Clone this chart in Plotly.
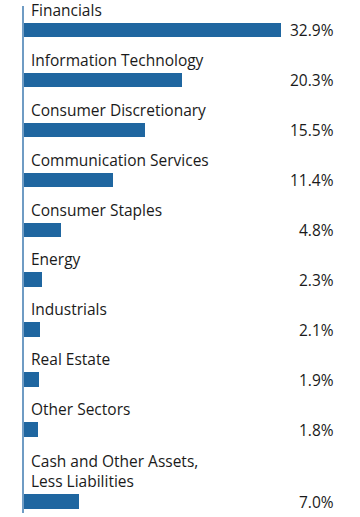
import plotly.graph_objects as go

categories = ["Financials", "Information Technology", "Consumer Discretionary",
              "Communication Services", "Consumer Staples", "Energy", "Industrials",
              "Real Estate", "Other Sectors", "Cash and Other Assets,<br>Less Liabilities"]
values = [32.9, 20.3, 15.5, 11.4, 4.8, 2.3, 2.1, 1.9, 1.8, 7.0]
value_labels = ["32.9%", "20.3%", "15.5%", "11.4%", "4.8%", "2.3%", "2.1%", "1.9%", "1.8%", "7.0%"]

# slot positions: uniform spacing, extra room for the two-line final label
pos = [i + (0.44 if "<br>" in c else 0) for i, c in enumerate(categories)]

BAR_W = 0.29
BLUE = "#1f66a0"
FONT = "Open Sans"

fig = go.Figure(go.Bar(
    x=values, y=pos, orientation="h", width=BAR_W,
    marker=dict(color=BLUE, line=dict(width=0)),
    hoverinfo="skip",
))

ann = []
for p, c, lab in zip(pos, categories, value_labels):
    ann.append(dict(x=0, y=p - BAR_W / 2, xref="x", yref="y", text=c,
                    xanchor="left", yanchor="bottom", align="left", showarrow=False,
                    xshift=5, yshift=0,
                    font=dict(family=FONT, size=15.5, color="#1a1a1a")))
    ann.append(dict(x=1, y=p, xref="paper", yref="y", text=lab,
                    xanchor="right", yanchor="middle", showarrow=False,
                    font=dict(family=FONT, size=15.5, color="#1a1a1a")))

fig.update_layout(
    width=360, height=517,
    margin=dict(l=24, r=24, t=6, b=4),
    paper_bgcolor="white", plot_bgcolor="white",
    showlegend=False,
    annotations=ann,
    xaxis=dict(range=[0, 40.0], visible=False, fixedrange=True),
    yaxis=dict(range=[9.67, -0.48], showticklabels=False, showgrid=False,
               zeroline=False, showline=True, linecolor="#6f9cc4", linewidth=2,
               ticks="", fixedrange=True),
    bargap=0,
)

fig.write_html("out.html", config={"displayModeBar": False},
               post_script="document.body.style.margin='0';document.body.style.overflow='hidden';")
